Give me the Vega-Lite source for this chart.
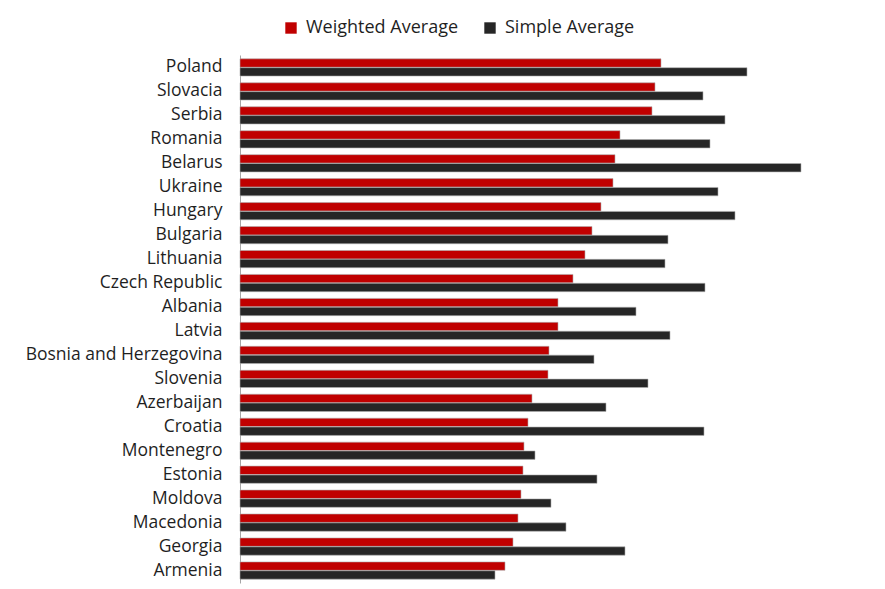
{
  "$schema": "https://vega.github.io/schema/vega-lite/v6.json",
  "width": 600,
  "height": 528,
  "autosize": {"type": "none"},
  "padding": {"left": 240, "top": 55, "right": 45, "bottom": 6},
  "background": "white",
  "data": {
    "values": [
      {"country": "Poland", "series": "Weighted Average", "value": 421},
      {"country": "Poland", "series": "Simple Average", "value": 507},
      {"country": "Slovacia", "series": "Weighted Average", "value": 415},
      {"country": "Slovacia", "series": "Simple Average", "value": 463},
      {"country": "Serbia", "series": "Weighted Average", "value": 412},
      {"country": "Serbia", "series": "Simple Average", "value": 485},
      {"country": "Romania", "series": "Weighted Average", "value": 380},
      {"country": "Romania", "series": "Simple Average", "value": 470},
      {"country": "Belarus", "series": "Weighted Average", "value": 375},
      {"country": "Belarus", "series": "Simple Average", "value": 561},
      {"country": "Ukraine", "series": "Weighted Average", "value": 373},
      {"country": "Ukraine", "series": "Simple Average", "value": 478},
      {"country": "Hungary", "series": "Weighted Average", "value": 361},
      {"country": "Hungary", "series": "Simple Average", "value": 495},
      {"country": "Bulgaria", "series": "Weighted Average", "value": 352},
      {"country": "Bulgaria", "series": "Simple Average", "value": 428},
      {"country": "Lithuania", "series": "Weighted Average", "value": 345},
      {"country": "Lithuania", "series": "Simple Average", "value": 425},
      {"country": "Czech Republic", "series": "Weighted Average", "value": 333},
      {"country": "Czech Republic", "series": "Simple Average", "value": 465},
      {"country": "Albania", "series": "Weighted Average", "value": 318},
      {"country": "Albania", "series": "Simple Average", "value": 396},
      {"country": "Latvia", "series": "Weighted Average", "value": 318},
      {"country": "Latvia", "series": "Simple Average", "value": 430},
      {"country": "Bosnia and Herzegovina", "series": "Weighted Average", "value": 309},
      {"country": "Bosnia and Herzegovina", "series": "Simple Average", "value": 354},
      {"country": "Slovenia", "series": "Weighted Average", "value": 308},
      {"country": "Slovenia", "series": "Simple Average", "value": 408},
      {"country": "Azerbaijan", "series": "Weighted Average", "value": 292},
      {"country": "Azerbaijan", "series": "Simple Average", "value": 366},
      {"country": "Croatia", "series": "Weighted Average", "value": 288},
      {"country": "Croatia", "series": "Simple Average", "value": 464},
      {"country": "Montenegro", "series": "Weighted Average", "value": 284},
      {"country": "Montenegro", "series": "Simple Average", "value": 295},
      {"country": "Estonia", "series": "Weighted Average", "value": 283},
      {"country": "Estonia", "series": "Simple Average", "value": 357},
      {"country": "Moldova", "series": "Weighted Average", "value": 281},
      {"country": "Moldova", "series": "Simple Average", "value": 311},
      {"country": "Macedonia", "series": "Weighted Average", "value": 278},
      {"country": "Macedonia", "series": "Simple Average", "value": 326},
      {"country": "Georgia", "series": "Weighted Average", "value": 273},
      {"country": "Georgia", "series": "Simple Average", "value": 385},
      {"country": "Armenia", "series": "Weighted Average", "value": 265},
      {"country": "Armenia", "series": "Simple Average", "value": 255}
    ]
  },
  "mark": {"type": "bar", "stroke": "#b0b0b0", "strokeWidth": 0.6},
  "encoding": {
    "y": {
      "field": "country",
      "type": "nominal",
      "sort": null,
      "scale": {"paddingInner": 0.28, "paddingOuter": 0.16},
      "axis": {
        "title": null,
        "ticks": false,
        "domainColor": "#a6a6a6",
        "domainWidth": 1,
        "labelFont": "Open Sans",
        "labelFontSize": 17.5,
        "labelColor": "#1f1f1f",
        "labelPadding": 18,
        "labelLimit": 0
      }
    },
    "yOffset": {
      "field": "series",
      "type": "nominal",
      "sort": ["Weighted Average", "Simple Average"],
      "scale": {"paddingInner": 0.05}
    },
    "x": {
      "field": "value",
      "type": "quantitative",
      "scale": {"domain": [0, 600], "nice": false},
      "axis": null
    },
    "color": {
      "field": "series",
      "type": "nominal",
      "sort": ["Weighted Average", "Simple Average"],
      "scale": {"domain": ["Weighted Average", "Simple Average"], "range": ["#c00000", "#262626"]},
      "legend": {
        "title": null,
        "orient": "none",
        "legendX": 42,
        "legendY": -36,
        "direction": "horizontal",
        "symbolType": "square",
        "symbolSize": 130,
        "symbolStrokeWidth": 0,
        "labelFont": "Open Sans",
        "labelFontSize": 18,
        "labelColor": "#1f1f1f",
        "columnPadding": 22,
        "labelOffset": 6,
        "labelLimit": 0
      }
    }
  },
  "config": {"view": {"stroke": null}}
}
